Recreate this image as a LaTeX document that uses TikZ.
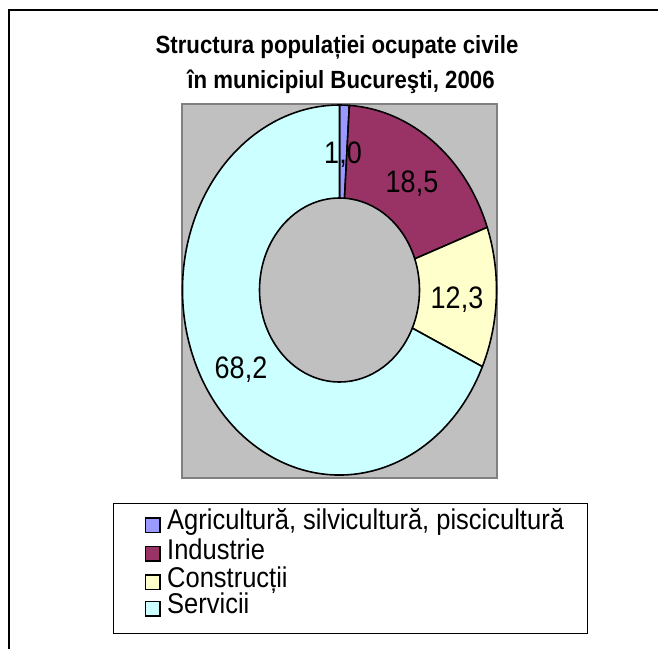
\documentclass[tikz,border=0pt]{standalone}
\usepackage{fontspec}
\setmainfont{Liberation Sans}
\usetikzlibrary{calc}
\definecolor{agri}{HTML}{9999FF}
\definecolor{indu}{HTML}{993366}
\definecolor{cons}{HTML}{FFFFCC}
\definecolor{serv}{HTML}{CCFFFF}
\definecolor{plotbg}{HTML}{C0C0C0}
\definecolor{plotline}{HTML}{808080}
\tikzset{
  wedge/.style={draw=black, line width=1.6pt, line join=round},
  lab/.style={anchor=base, inner sep=0pt, font=\fontsize{27}{27}\selectfont},
  legsq/.style={draw=black, line width=1.5pt, minimum width=14.5pt, minimum height=14.5pt, inner sep=0pt},
  legtxt/.style={anchor=base west, inner sep=0pt, font=\fontsize{25.5}{25.5}\selectfont},
  ttl/.style={anchor=base, inner sep=0pt, font=\bfseries\fontsize{22.2}{22.2}\selectfont}
}
\begin{document}
\begin{tikzpicture}[x=1pt,y=1pt]
\useasboundingbox (0,0) rectangle (658,-648);
\fill[white] (0,0) rectangle (658,-648);
% outer frame (cropped on right and bottom)
\draw[line width=2pt] (9,-700) -- (9,-10) -- (700,-10);
% title
\node[ttl] (t1) at (337,-53) {\scalebox{1}[1.12]{Structura populației ocupate civile}};
\node[ttl] (t2) at (341,-88) {\scalebox{1}[1.12]{în municipiul Bucureşti, 2006}};
% plot area
\draw[fill=plotbg, draw=plotline, line width=2pt] (182,-104) rectangle (497,-478);
\coordinate (c) at (339.5,-290);
\def\rxo{157}\def\ryo{185}\def\rxi{80}\def\ryi{92}
\newcommand\donutwedge[3]{%
  \draw[wedge, fill=#1] ($(c)+(#2:\rxo pt and \ryo pt)$)
    arc[start angle=#2, end angle=#3, x radius=\rxo, y radius=\ryo]
    -- ($(c)+(#3:\rxi pt and \ryi pt)$)
    arc[start angle=#3, end angle=#2, x radius=\rxi, y radius=\ryi] -- cycle;}
\donutwedge{agri}{90}{86.4}
\donutwedge{indu}{86.4}{19.8}
\donutwedge{cons}{19.8}{-24.48}
\donutwedge{serv}{-24.48}{-270}
% data labels
\node[lab] (l1) at (343,-163) {\scalebox{1}[1.15]{1,0}};
\node[lab] (l2) at (412,-192) {\scalebox{1}[1.15]{18,5}};
\node[lab] (l3) at (457,-308) {\scalebox{1}[1.15]{12,3}};
\node[lab] (l4) at (241,-378) {\scalebox{1}[1.15]{68,2}};
% legend
\draw[line width=1pt] (113,-503) rectangle (587,-633);
\node[legsq, fill=agri] (s1) at (152.5,-525) {};
\node[legsq, fill=indu] (s2) at (152.5,-553.5) {};
\node[legsq, fill=cons] (s3) at (152.5,-582) {};
\node[legsq, fill=serv] (s4) at (152.5,-608.5) {};
\node[legtxt] (g1) at (167,-529) {\scalebox{1}[1.12]{Agricultură, silvicultură, piscicultură}};
\node[legtxt] (g2) at (167,-559) {\scalebox{1}[1.12]{Industrie}};
\node[legtxt] (g3) at (167,-587) {\scalebox{1}[1.12]{Construcții}};
\node[legtxt] (g4) at (167,-613) {\scalebox{1}[1.12]{Servicii}};
\end{tikzpicture}
\end{document}
